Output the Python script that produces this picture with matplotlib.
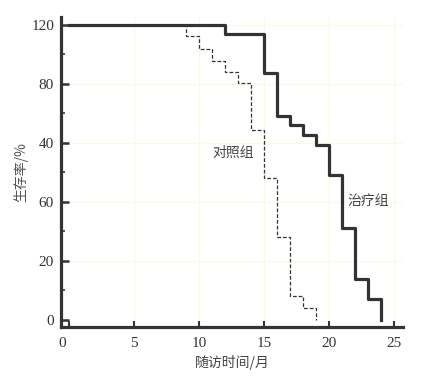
import matplotlib
matplotlib.use("Agg")
import matplotlib.pyplot as plt
import matplotlib.transforms as mtransforms
from matplotlib.ticker import MultipleLocator, FixedLocator, FixedFormatter

# Treatment group (solid): step times (months) and survival after each step
treat_t = [0, 12, 15, 16, 17, 18, 19, 20, 21, 22, 23, 24, 24]
treat_s = [100, 96.8, 83.8, 69.0, 65.9, 62.5, 59.1, 49.0, 31.1, 13.8, 7.2, 0, 0]

# Control group (dashed)
ctrl_t = [0, 9, 10, 11, 12, 13, 14, 15, 16, 17, 18, 19, 19]
ctrl_s = [100, 96.0, 91.7, 87.7, 84.0, 80.1, 64.3, 48.1, 28.1, 8.1, 4.0, 0, 0]

x_ticks = [0, 5, 10, 15, 20, 25]
y_ticks = [0, 20, 40, 60, 80, 100]
y_ticklabels = ["0", "20", "60", "40", "80", "120"]  # as printed in the source figure

cjk = ["Noto Sans CJK SC", "DejaVu Sans"]
serif = ["Liberation Serif", "DejaVu Serif"]

fig = plt.figure(figsize=(4.27, 3.79), dpi=100)
ax = fig.add_axes([61/427, 1-327/379, (403-61)/427, (327-17)/379])

ax.set_xlim(-0.62, 25.7)
ax.set_ylim(-2.4, 102.6)

for x in x_ticks[1:]:
    ax.axvline(x, color="#fafae4", lw=0.9, zorder=0)
for y in y_ticks[1:]:
    ax.axhline(y, color="#fafae4", lw=0.9, zorder=0)

ax.step(ctrl_t, ctrl_s, where="post", color="#333333", lw=0.9, ls=(0, (3, 1.6)), zorder=2)
ax.step(treat_t, treat_s, where="post", color="#333333", lw=2.3, zorder=3)

ax.spines["top"].set_visible(False)
ax.spines["right"].set_visible(False)
for s in ("left", "bottom"):
    ax.spines[s].set_linewidth(2.3)
    ax.spines[s].set_color("#333333")

ax.xaxis.set_major_locator(FixedLocator(x_ticks))
ax.yaxis.set_major_locator(FixedLocator(y_ticks))
ax.yaxis.set_major_formatter(FixedFormatter(y_ticklabels))
ax.yaxis.set_minor_locator(MultipleLocator(10))

ax.tick_params(axis="x", which="major", direction="in", length=4, width=1.5,
               color="#333333", pad=7, labelsize=11, labelcolor="#333333")
ax.tick_params(axis="y", which="major", direction="in", length=6, width=1.8,
               color="#333333", pad=5, labelsize=11, labelcolor="#333333")
ax.tick_params(axis="y", which="minor", direction="in", length=3, width=1.2,
               color="#333333")
for lab in ax.get_xticklabels() + ax.get_yticklabels():
    lab.set_family(serif)

# the "0" on the x axis sits under the spine in the source figure
fig.canvas.draw()
xl0 = ax.get_xticklabels()[0]
xl0.set_transform(xl0.get_transform() + mtransforms.ScaledTranslation(-7/100, 0, fig.dpi_scale_trans))

ax.set_xlabel("随访时间/月", family=cjk, fontsize=10, color="#444444", labelpad=4)
ax.set_ylabel("生存率/%", family=cjk, fontsize=10, color="#555555", labelpad=2)

ax.text(12.64, 56.5, "对照组", family=cjk, fontsize=10, color="#444444",
        ha="center", va="center")
ax.text(23.05, 40.2, "治疗组", family=cjk, fontsize=10, color="#444444",
        ha="center", va="center")

fig.savefig("out.png", dpi=100, facecolor="white")
